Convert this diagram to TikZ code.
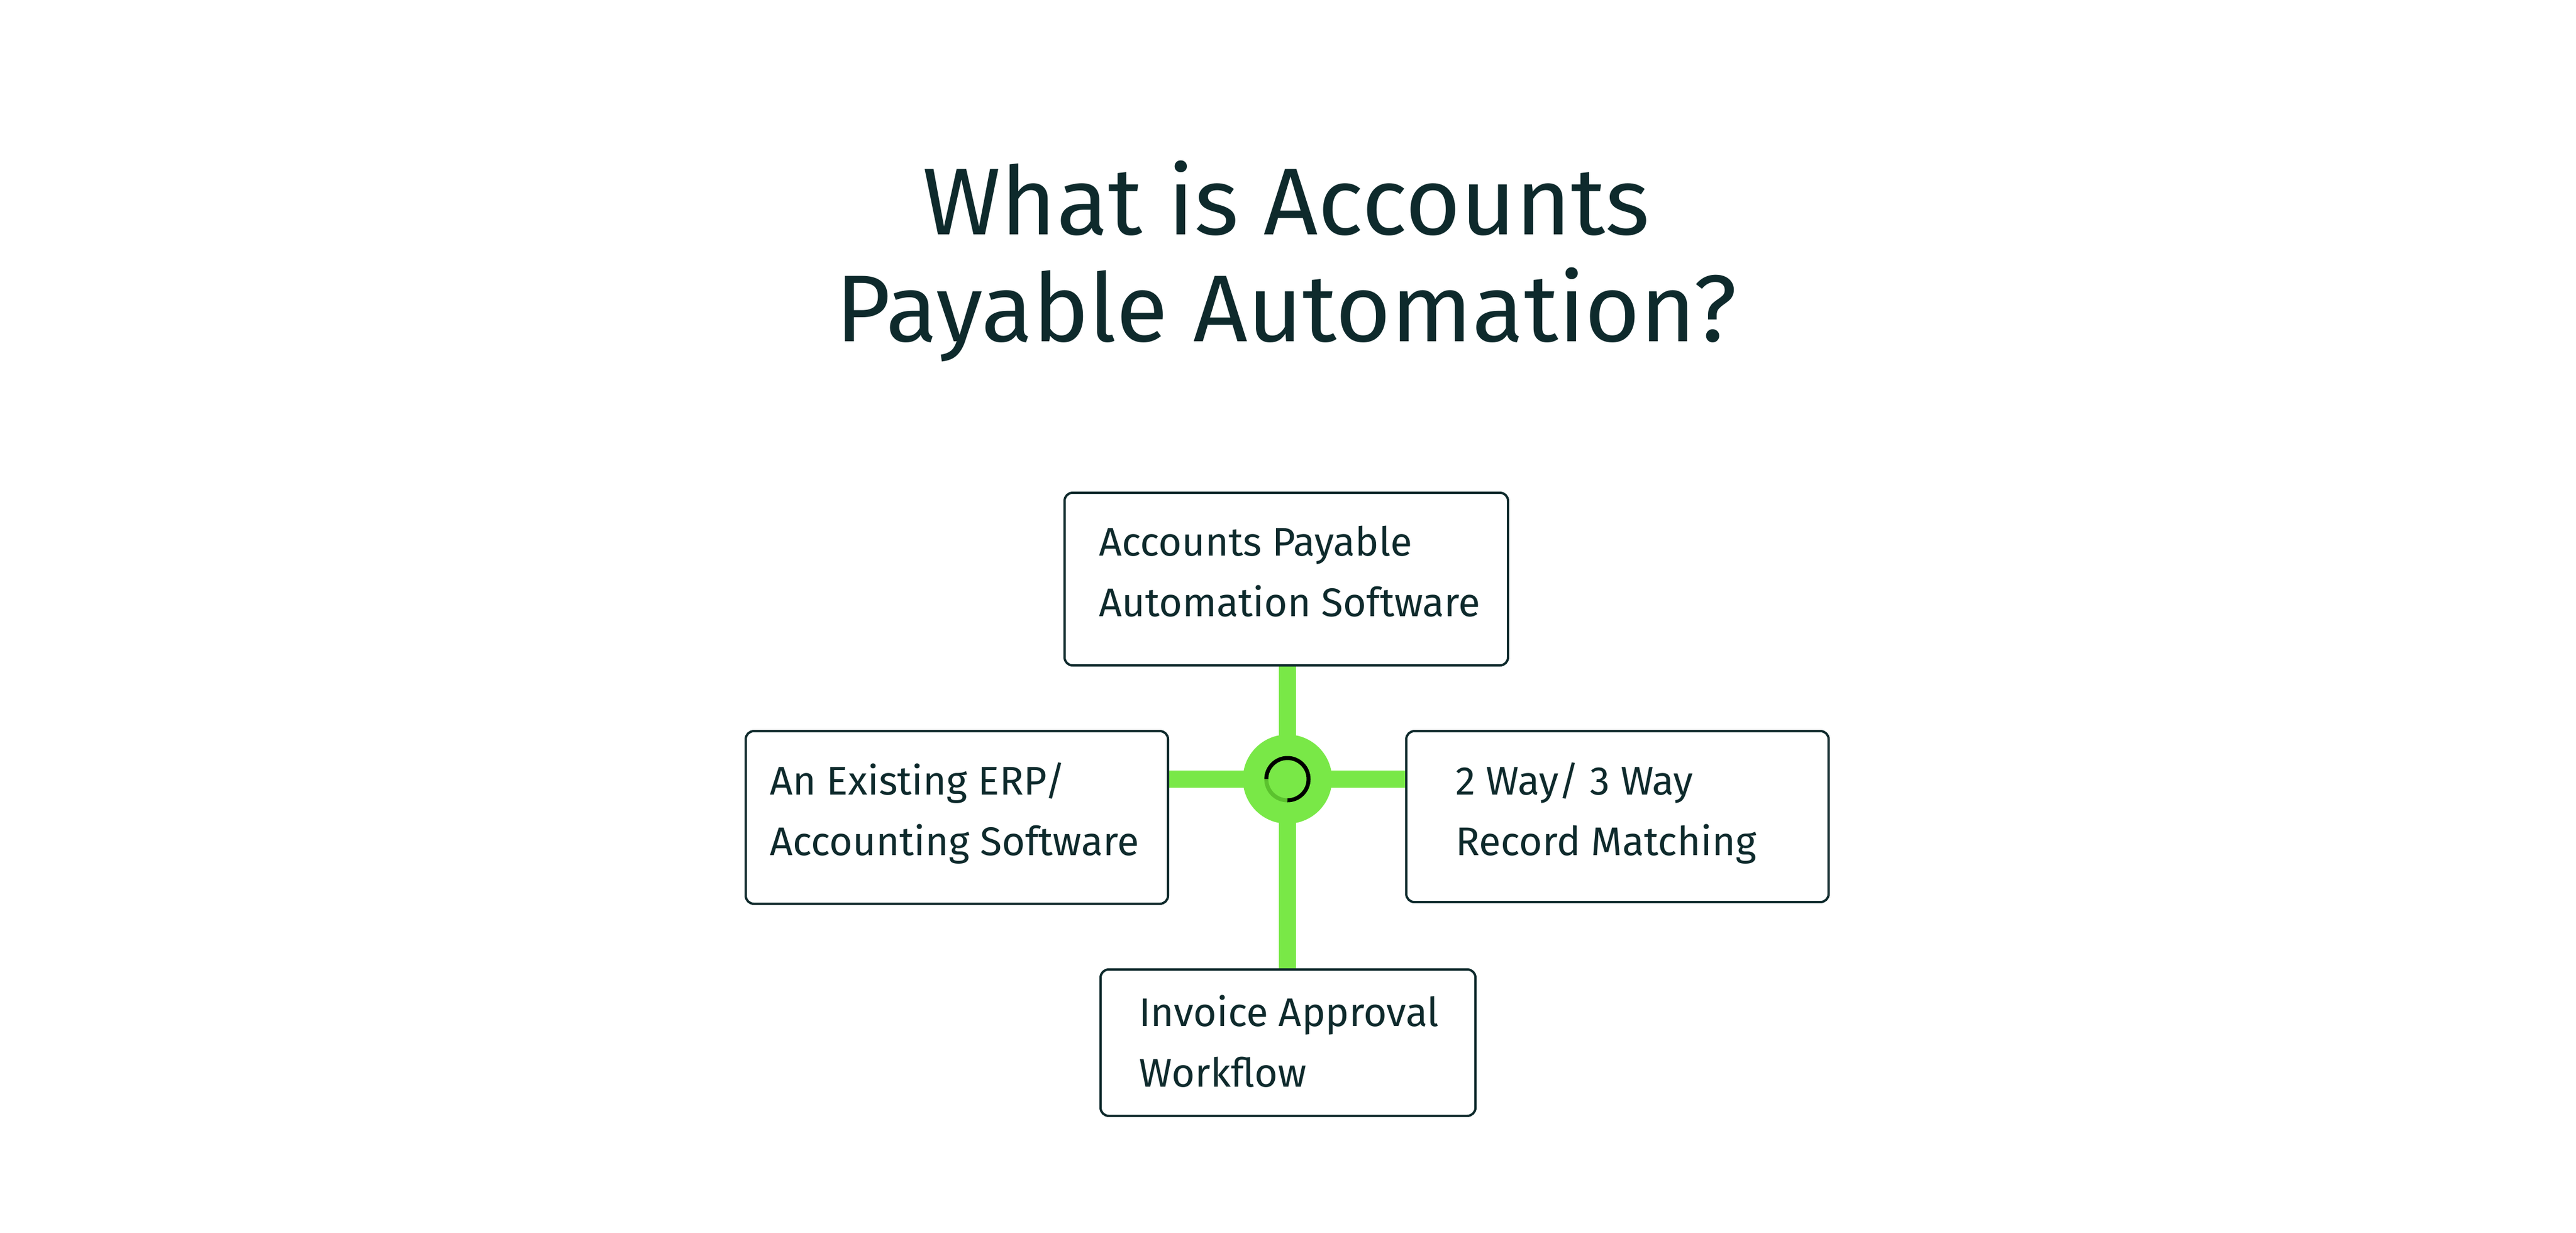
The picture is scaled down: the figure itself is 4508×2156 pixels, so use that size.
\documentclass[tikz,border=0pt]{standalone}
\usepackage{fontspec}
\setmainfont{Fira Sans}
\definecolor{ink}{HTML}{0E2A2C}
\definecolor{lime}{HTML}{79E847}
\definecolor{limedark}{HTML}{5BC22E}
\begin{document}
\begin{tikzpicture}[x=1pt,y=-1pt,
  card/.style={draw=ink,line width=4pt,rounded corners=14pt,fill=white},
  cardtext/.style={anchor=base west,inner sep=0pt,text=ink,font=\fontsize{70}{106}\selectfont,align=left},
  bar/.style={draw=lime,line width=30pt}]
\useasboundingbox (0,0) rectangle (4508,2156);
\node[anchor=base,inner sep=0pt,text=ink,font=\fontsize{166}{185}\selectfont] (t1) at (2251,410) {What is Accounts};
\node[anchor=base,inner sep=0pt,text=ink,font=\fontsize{166}{185}\selectfont] (t2) at (2251,597) {Payable Automation?};
\coordinate (ctr) at (2253,1363);
\draw[bar] (2253,1164) -- (2253,1696);
\draw[bar] (2044,1363) -- (2461,1363);
\fill[lime] (ctr) circle (78);
\draw[black,line width=7pt] (ctr) ++(90:37) arc (90:-180:37);
\draw[limedark,line width=7pt] (ctr) ++(90:37) arc (90:180:37);
\draw[card] (1863,862) rectangle (2639,1164);
\draw[card] (1305,1279) rectangle (2044,1581);
\draw[card] (2461,1279) rectangle (3200,1578);
\draw[card] (1926,1696) rectangle (2582,1952);
\node[cardtext] (a) at (1923,1078) {Accounts Payable\\Automation Software};
\node[cardtext] (b) at (1347,1496) {An Existing ERP/\\Accounting Software};
\node[cardtext] (c) at (2547,1496) {2 Way/ 3 Way\\Record Matching};
\node[cardtext] (d) at (1993,1901) {Invoice Approval\\Workflow};
\end{tikzpicture}
\end{document}
